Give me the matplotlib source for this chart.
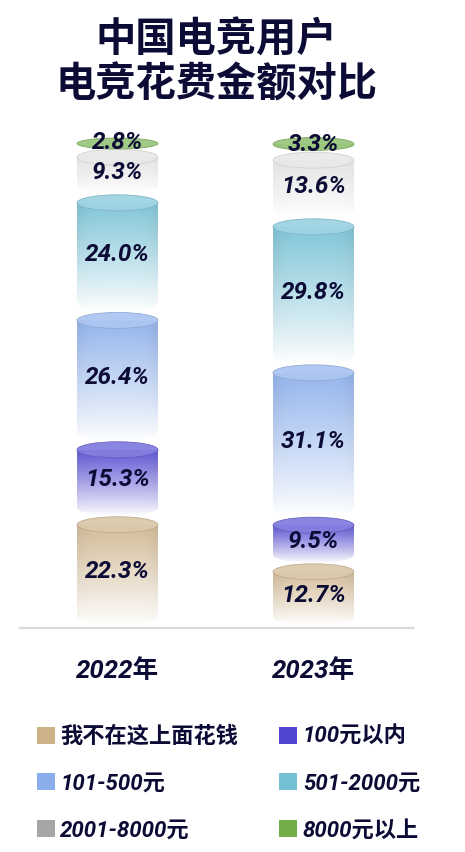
import matplotlib
matplotlib.use('Agg')
import matplotlib.pyplot as plt
import numpy as np
from matplotlib.patches import Ellipse, Patch, PathPatch
from matplotlib.path import Path
from matplotlib.colors import to_rgb

plt.rcParams['font.family'] = ['Roboto', 'Noto Sans CJK SC']

### data
years = ['2022年', '2023年']
categories = ['我不在这上面花钱', '100元以内', '101-500元', '501-2000元', '2001-8000元', '8000元以上']
share_2022 = [22.3, 15.3, 26.4, 24.0, 9.3, 2.8]
share_2023 = [12.7, 9.5, 31.1, 29.8, 13.6, 3.3]
colors = ['#CDB288', '#5046D2', '#8AAEEC', '#74C0D5', '#A6A6A6', '#70AD47']
peak_alpha = [0.85, 0.9, 0.9, 0.9, 0.3, 0.9]   ### gray cylinder is drawn very light

navy = '#0B0B35'

### pixel scale helpers (figure is 465 x 852 px)
px_per_unit = 4.9       ### px per percent point
bar_w = 0.413
ell_px = 16
gap_px = 9

fig = plt.figure(figsize=(4.65, 8.52), dpi=100)
ax = fig.add_axes([0, (852 - 640) / 852, 1, 520 / 852])
xlim = (-117.5 / 196, (465 - 117.5) / 196)
ylim = (-6 / px_per_unit, 514 / px_per_unit)


def mix(c, other, t):
    c = np.array(to_rgb(c))
    o = np.array(to_rgb(other))
    return tuple(c * (1 - t) + o * t)


def cylinder(xc, b, t, color, a_top):
    seg = t - b
    eh = min(ell_px, 0.8 * seg * px_per_unit) / px_per_unit
    gap = gap_px / px_per_unit
    x0, x1 = xc - bar_w / 2, xc + bar_w / 2
    bc = b + gap + eh / 2
    if bc < t:
        ### body with vertical fade, clipped to rounded bottom
        n = 200
        frac = np.linspace(0, 1, n)[:, None]          ### 0 bottom -> 1 top
        u = np.linspace(-1, 1, 60)[None, :]
        rgb = np.array(to_rgb(color))
        img = np.zeros((n, 60, 4))
        shade = 1 - 0.07 * u ** 4
        img[..., :3] = rgb[None, None, :] * shade[..., None]
        img[..., 3] = a_top * frac ** 0.9 * np.ones_like(u)
        lo = bc - eh / 2
        im = ax.imshow(img, extent=(x0, x1, lo, t), origin='lower', aspect='auto',
                       interpolation='bilinear', zorder=2)
        ang = np.linspace(0, -np.pi, 40)
        verts = [(x0, t), (x1, t), (x1, bc)]
        verts += list(zip(xc + bar_w / 2 * np.cos(ang), bc + eh / 2 * np.sin(ang)))
        verts += [(x0, t), (x0, t)]
        codes = [Path.MOVETO] + [Path.LINETO] * (len(verts) - 2) + [Path.CLOSEPOLY]
        clip = PathPatch(Path(verts, codes), transform=ax.transData)
        im.set_clip_path(clip)
    ### top ellipse
    light = a_top > 0.5
    ax.add_patch(Ellipse((xc, t), bar_w, eh, facecolor=mix(color, 'white', 0.3 if light else 0.75),
                         edgecolor=mix(color, '#999999', 0.3) if light else '#D0D0D0', linewidth=0.6,
                         alpha=0.95, zorder=3))
    ### label
    ly = (t + b + gap) / 2 + 0.6
    return ly


for i, shares in enumerate([share_2022, share_2023]):
    bottoms = np.concatenate([[0], np.cumsum(shares)[:-1]])
    tops = np.cumsum(shares)
    for k in range(len(shares)):
        ly = cylinder(i, bottoms[k], tops[k], colors[k], peak_alpha[k])
        ax.text(i, ly, f'{shares[k]:.1f}%', ha='center', va='center', fontsize=17.5,
                fontweight='bold', fontstyle='italic', color=navy, zorder=5)

### ground line
ax.axhline(6.5 / px_per_unit, xmin=20 / 465, xmax=413 / 465, color='#D9D9D9', linewidth=1.6, zorder=1)

ax.set_xlim(*xlim)
ax.set_ylim(*ylim)
ax.set_xticks([0, 1])
ax.set_xticklabels(years, fontsize=18.5, fontweight='bold', fontstyle='italic', color=navy)
ax.tick_params(axis='x', length=0, pad=14)
ax.set_yticks([])
for s in ax.spines.values():
    s.set_visible(False)
ax.patch.set_alpha(0)

### title
fig.text(216 / 465, 1 - 40 / 852, '中国电竞用户', ha='center', va='center', fontsize=29,
         fontweight='bold', color=navy, family=['Noto Sans CJK SC'])
fig.text(216 / 465, 1 - 85 / 852, '电竞花费金额对比', ha='center', va='center', fontsize=29,
         fontweight='bold', color=navy, family=['Noto Sans CJK SC'])

### legend (row-wise order)
handles = [Patch(facecolor=c, edgecolor='none') for c in colors]
order = [0, 2, 4, 1, 3, 5]
fig.legend([handles[j] for j in order], [categories[j] for j in order], ncol=2,
           loc='upper left', bbox_to_anchor=(37 / 465, 1 - 726 / 852), frameon=False,
           prop={'size': 16, 'weight': 'bold', 'style': 'italic'}, labelcolor=navy,
           handlelength=0.8, handleheight=0.8, handletextpad=0.25, columnspacing=1.85,
           labelspacing=1.11, borderpad=0, borderaxespad=0)

plt.savefig('out.png', dpi=100)
